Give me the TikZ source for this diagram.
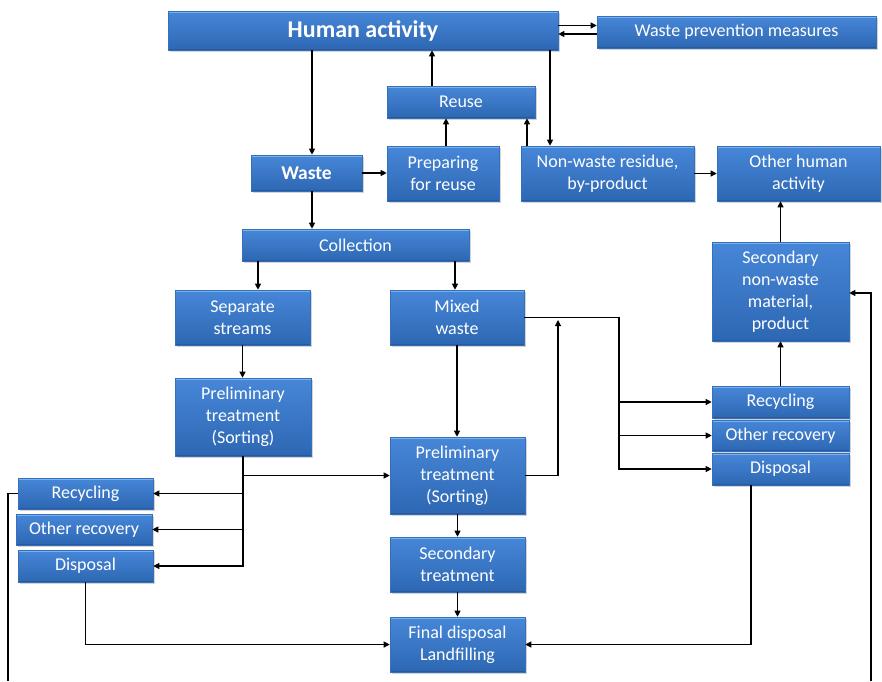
\documentclass[tikz,border=0pt]{standalone}
\usepackage{fontspec}
\setmainfont{Carlito}
\usetikzlibrary{arrows.meta,shadows}

\definecolor{boxtop}{HTML}{4787D8}
\definecolor{boxbot}{HTML}{2D67B3}
\definecolor{boxedge}{HTML}{3470BE}
\definecolor{bevellight}{HTML}{7AB0EC}
\definecolor{beveldark}{HTML}{244F8C}

\tikzset{
  box/.style={draw=boxedge, line width=0.6pt, top color=boxtop, bottom color=boxbot,
    text=white, align=center, inner sep=2pt,
    font=\fontsize{18}{22}\selectfont,
    drop shadow={shadow xshift=2pt, shadow yshift=-2pt, opacity=0.35},
    path picture={
      \draw[bevellight, line width=2pt]
        ([yshift=-1pt]path picture bounding box.north west) -- ([yshift=-1pt]path picture bounding box.north east);
      \draw[beveldark, line width=1.2pt, opacity=0.6]
        ([yshift=0.6pt]path picture bounding box.south west) -- ([yshift=0.6pt]path picture bounding box.south east);
    }},
  bigbox/.style={box, font=\fontsize{24}{26}\selectfont\bfseries},
  midbox/.style={box, font=\fontsize{19.5}{22}\selectfont\bfseries},
  arr/.style={draw=black, line width=1.1pt, -{Triangle[length=6pt,width=6pt]}},
  ln/.style={draw=black, line width=1.1pt},
}

\begin{document}
\begin{tikzpicture}[x=1pt,y=-1pt]
\useasboundingbox (0,0) rectangle (882,681);

% --- upper part: activity, prevention, reuse ---
\node[bigbox, minimum width=390, minimum height=39] (ha) at (363,30.5) {Human activity};
\node[box, minimum width=279, minimum height=32] (wpm) at (736.5,32) {Waste prevention measures};
\node[box, minimum width=148, minimum height=32] (reuse) at (461,102) {Reuse};
\node[midbox, minimum width=111, minimum height=36] (waste) at (306.5,173) {Waste};
\node[box, minimum width=112, minimum height=55] (prep) at (443,173.5) {Preparing\\for reuse};
\node[box, minimum width=173, minimum height=55] (nonwaste) at (607.5,173.5) {Non-waste residue,\\by-product};
\node[box, minimum width=163, minimum height=55] (other) at (798.5,173.5) {Other human\\activity};

% --- collection and streams ---
\node[box, minimum width=227, minimum height=32] (coll) at (355.5,245) {Collection};
\node[box, minimum width=135, minimum height=55] (sep) at (242.5,317.5) {Separate\\streams};
\node[box, minimum width=134, minimum height=55] (mixed) at (457,317.5) {Mixed\\waste};
\node[box, minimum width=137, minimum height=99] (secmat) at (780.5,291.5) {Secondary\\non-waste\\material,\\product};

% --- treatment ---
\node[box, minimum width=136, minimum height=78] (prelL) at (243,417) {Preliminary\\treatment\\(Sorting)};
\node[box, minimum width=137, minimum height=32] (recR) at (780.5,402) {Recycling};
\node[box, minimum width=137, minimum height=31] (othR) at (780.5,435.5) {Other recovery};
\node[box, minimum width=137, minimum height=32] (disR) at (780.5,469) {Disposal};
\node[box, minimum width=135, minimum height=77] (prelM) at (457.5,475.5) {Preliminary\\treatment\\(Sorting)};
\node[box, minimum width=135, minimum height=31] (recL) at (85.5,493.5) {Recycling};
\node[box, minimum width=136, minimum height=31] (othL) at (84,529.5) {Other recovery};
\node[box, minimum width=135, minimum height=32] (disL) at (85.5,566) {Disposal};
\node[box, minimum width=135, minimum height=55] (sect) at (457.5,564.5) {Secondary\\treatment};
\node[box, minimum width=135, minimum height=55] (final) at (457.5,644.5) {Final disposal\\Landfilling};

% free ends of the two long return lines
\coordinate (lb) at (8,681);
\coordinate (rb) at (871,681);
\coordinate (mxj) at (619,317.5);
\coordinate (rise) at (558,320);

% --- connectors: top ---
\draw[arr] ([yshift=5pt]ha.east) -- ([yshift=5pt]ha.east -| wpm.west);
\draw[arr] ([yshift=-2pt]wpm.west) -- ([yshift=-2pt]wpm.west -| ha.east);
\draw[arr] ([xshift=5.5pt]waste.north |- ha.south) -- ([xshift=5.5pt]waste.north);
\draw[arr] ([xshift=-29pt]reuse.north) -- ([xshift=-29pt]reuse.north |- ha.south);
\draw[arr] ([xshift=3pt]prep.north) -- ([xshift=3pt]prep.north |- reuse.south);
\draw[arr] ([xshift=-80.5pt]nonwaste.north) -- ([xshift=-80.5pt]nonwaste.north |- reuse.south);
\draw[arr] ([xshift=-57.5pt]nonwaste.north |- ha.south) -- ([xshift=-57.5pt]nonwaste.north);
\draw[arr] (waste.east) -- (waste.east -| prep.west);
\draw[arr] (nonwaste.east) -- (nonwaste.east -| other.west);
\draw[arr] (secmat.north) -- (secmat.north |- other.south);

% --- connectors: collection ---
\draw[arr] ([xshift=5.5pt]waste.south) -- ([xshift=5.5pt]waste.south |- coll.north);
\draw[arr] ([xshift=15.5pt]sep.north |- coll.south) -- ([xshift=15.5pt]sep.north);
\draw[arr] ([xshift=-2pt]mixed.north |- coll.south) -- ([xshift=-2pt]mixed.north);
\draw[arr] (sep.south) -- (sep.south |- prelL.north);
\draw[arr] (mixed.south) -- (mixed.south |- prelM.north);

% --- mixed waste to right-hand recovery ---
\draw[arr] (mixed.east) -- (mxj) |- (recR.west);
\draw[arr] (mxj |- recR.west) |- (disR.west);
\draw[arr] (mxj |- othR.west) -- (othR.west);
\draw[arr] (prelM.east) -| (rise);

% --- left sorting to left-hand recovery ---
\draw[arr] (prelL.south) |- (disL.east);
\draw[arr] (prelL.south |- recL.east) -- (recL.east);
\draw[arr] (prelL.south |- othL.east) -- (othL.east);
\draw[arr] (prelL.south |- prelM.west) -- (prelM.west);

% --- towards final disposal ---
\draw[arr] (prelM.south) -- (sect.north);
\draw[arr] (sect.south) -- (final.north);
\draw[arr] (disL.south) |- (final.west);
\draw[arr] ([xshift=-29.5pt]disR.south) |- (final.east);
\draw[arr] (secmat.south |- recR.north) -- (secmat.south);

% --- return lines ---
\draw[ln] (recL.west) -| (lb);
\draw[arr] (rb) |- ([yshift=-1.5pt]secmat.east);
\end{tikzpicture}
\end{document}
